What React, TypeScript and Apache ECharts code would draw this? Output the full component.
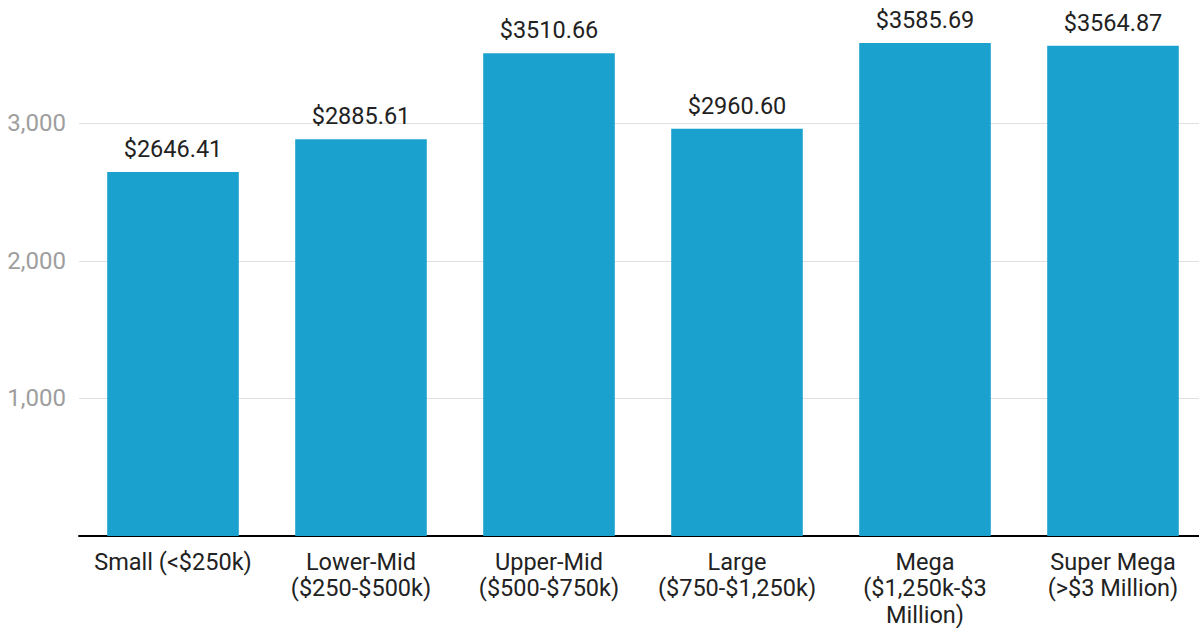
import React, { useEffect, useRef } from "react";
import * as echarts from "echarts";

const categories = [
  "Small (<$250k)",
  "Lower-Mid\n($250-$500k)",
  "Upper-Mid\n($500-$750k)",
  "Large\n($750-$1,250k)",
  "Mega\n($1,250k-$3\nMillion)",
  "Super Mega\n(>$3 Million)",
];
const values = [2646.41, 2885.61, 3510.66, 2960.6, 3585.69, 3564.87];
const yTicks = [0, 1000, 2000, 3000];

export default function App() {
  const ref = useRef<HTMLDivElement>(null);
  useEffect(() => {
    if (!ref.current) return;
    const chart = echarts.init(ref.current, undefined, { renderer: "svg" });
    chart.setOption({
      animation: false,
      textStyle: { fontFamily: "Roboto" },
      grid: {
        left: 79,
        right: -8,
        top: 10,
        bottom: 92,
        containLabel: false,
        outerBoundsMode: "none",
      },
      xAxis: {
        type: "category",
        data: categories,
        axisLine: { show: true, lineStyle: { color: "#000", width: 2 } },
        axisTick: { show: false },
        axisLabel: {
          color: "#222",
          fontSize: 23.5,
          lineHeight: 26.5,
          margin: 12.5,
          interval: 0,
          fontFamily: "Roboto",
        },
      },
      yAxis: {
        type: "value",
        min: 0,
        max: 3825,
        interval: 1000,
        axisLine: { show: false },
        axisTick: { show: false },
        splitLine: {
          lineStyle: { color: "#e0e0e0", width: 1 },
          showMaxLine: false,
          showMinLine: false,
        },
        axisLabel: {
          color: "#9e9e9e",
          fontSize: 24,
          margin: 13,
          fontFamily: "Roboto",
          showMaxLabel: false,
          formatter: (v: number) =>
            yTicks.includes(v) && v !== 0 ? v.toLocaleString("en-US") : "",
        },
      },
      series: [
        {
          type: "bar",
          data: values,
          barCategoryGap: "30%",
          itemStyle: { color: "#1aa1ce" },
          label: {
            show: true,
            position: "top",
            distance: 11,
            color: "#222",
            fontSize: 23.5,
            fontFamily: "Roboto",
            formatter: (p: any) => "$" + Number(p.value).toFixed(2),
          },
        },
      ],
    });
    return () => chart.dispose();
  }, []);
  return (
    <div
      ref={ref}
      style={{ position: "absolute", left: 0, top: 0, width: 1199, height: 628 }}
    />
  );
}
